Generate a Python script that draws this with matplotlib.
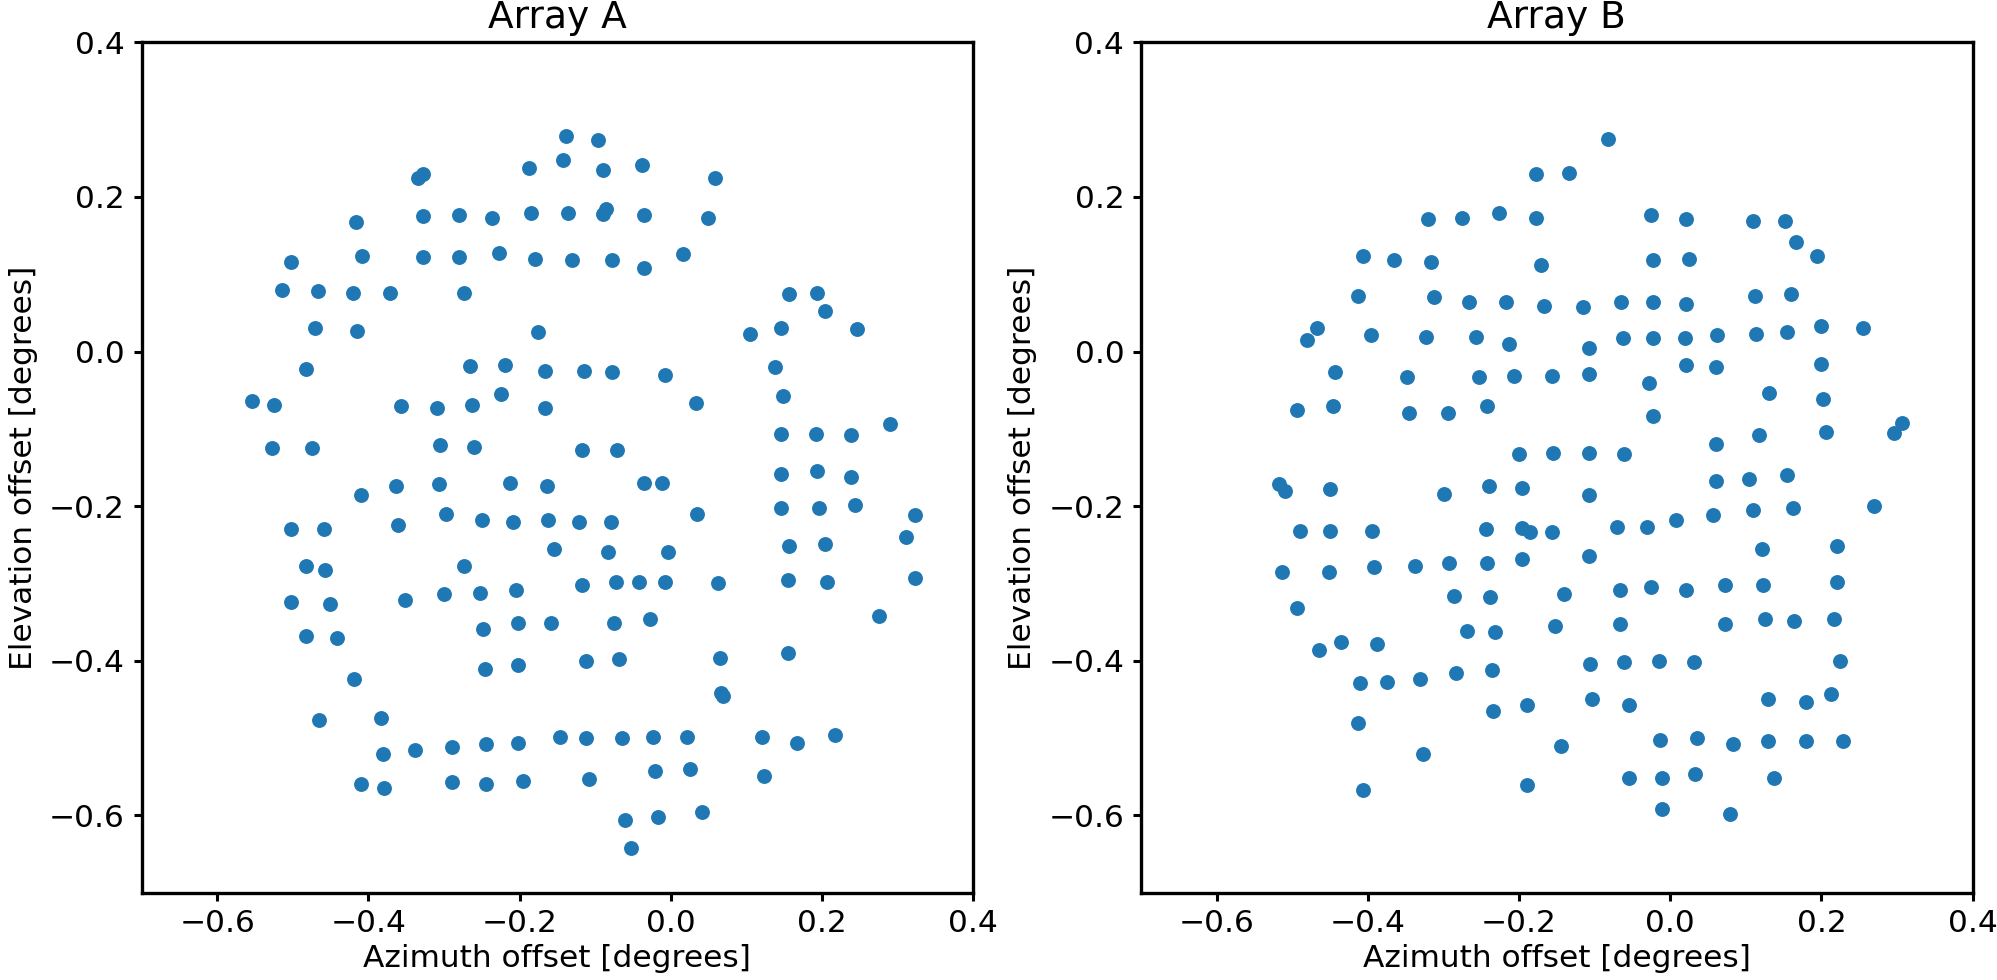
import matplotlib
matplotlib.use("Agg")
import matplotlib.pyplot as plt
import numpy as np

# Array A offsets (degrees)
a_az = [-0.139, -0.334, -0.328, -0.187, -0.142, -0.417, -0.328, -0.280, -0.236, -0.185, -0.136,
        -0.503, -0.409, -0.328, -0.280, -0.227, -0.179, -0.131, -0.514, -0.467, -0.421, -0.371,
        -0.273, -0.471, -0.415, -0.175, -0.483, -0.265, -0.219, -0.167, -0.115, -0.554, -0.525,
        -0.357, -0.309, -0.263, -0.225, -0.167, -0.527, -0.475, -0.305, -0.260, -0.117,
        -0.096, -0.090, -0.038, 0.058, -0.090, -0.086, -0.036, 0.050, -0.078, -0.036, 0.016,
        0.156, 0.194, 0.204, 0.105, 0.146, 0.246, -0.078, -0.007, 0.033, 0.138, 0.148, 0.290,
        0.146, 0.192, 0.238, -0.071,
        -0.410, -0.363, -0.307, -0.212, -0.164, -0.502, -0.459, -0.361, -0.298, -0.250, -0.209,
        -0.162, -0.121, -0.154, -0.483, -0.457, -0.273, -0.117, -0.502, -0.451, -0.352, -0.300,
        -0.252, -0.205, -0.483, -0.442, -0.248, -0.202, -0.159, -0.419, -0.246, -0.202, -0.112,
        -0.465, -0.384, -0.381, -0.338, -0.290, -0.244, -0.202, -0.146, -0.112, -0.410, -0.380,
        -0.290, -0.244, -0.196, -0.108,
        -0.036, -0.011, 0.146, 0.194, 0.238, -0.079, 0.035, 0.146, 0.196, 0.244, 0.323, 0.312,
        -0.083, -0.004, 0.156, 0.204, -0.073, -0.042, -0.008, 0.063, 0.155, 0.207, 0.323,
        -0.075, -0.027, 0.275, -0.069, 0.065, 0.155, 0.067, 0.069, -0.065, -0.023, 0.021,
        0.121, 0.167, 0.217, -0.021, 0.025, 0.123, -0.061, -0.017, 0.042, -0.052]
a_el = [0.279, 0.224, 0.229, 0.238, 0.248, 0.167, 0.175, 0.177, 0.173, 0.179, 0.179,
        0.116, 0.124, 0.122, 0.122, 0.128, 0.120, 0.118, 0.080, 0.078, 0.076, 0.076,
        0.076, 0.031, 0.027, 0.025, -0.023, -0.019, -0.017, -0.025, -0.025, -0.064, -0.069,
        -0.071, -0.073, -0.069, -0.055, -0.073, -0.125, -0.125, -0.121, -0.123, -0.127,
        0.273, 0.235, 0.241, 0.224, 0.178, 0.184, 0.177, 0.173, 0.118, 0.108, 0.126,
        0.074, 0.076, 0.053, 0.023, 0.031, 0.029, -0.027, -0.030, -0.067, -0.020, -0.057, -0.094,
        -0.107, -0.107, -0.108, -0.127,
        -0.186, -0.174, -0.171, -0.170, -0.174, -0.230, -0.230, -0.224, -0.210, -0.218, -0.221,
        -0.218, -0.221, -0.255, -0.277, -0.283, -0.277, -0.302, -0.324, -0.327, -0.322, -0.314,
        -0.312, -0.308, -0.368, -0.371, -0.359, -0.351, -0.351, -0.423, -0.411, -0.406, -0.400,
        -0.476, -0.474, -0.521, -0.516, -0.512, -0.508, -0.506, -0.498, -0.500, -0.559, -0.565,
        -0.557, -0.559, -0.555, -0.553,
        -0.170, -0.170, -0.158, -0.155, -0.162, -0.220, -0.210, -0.202, -0.202, -0.198, -0.212, -0.240,
        -0.259, -0.259, -0.251, -0.249, -0.298, -0.298, -0.298, -0.300, -0.296, -0.298, -0.293,
        -0.351, -0.346, -0.342, -0.398, -0.396, -0.390, -0.442, -0.446, -0.500, -0.498, -0.498,
        -0.498, -0.506, -0.496, -0.543, -0.540, -0.549, -0.606, -0.602, -0.596, -0.642]

# Array B offsets (degrees)
b_az = [-0.178, -0.134, -0.321, -0.276, -0.226, -0.178, -0.406, -0.365, -0.317, -0.171,
        -0.413, -0.313, -0.266, -0.217, -0.167, -0.115, -0.467, -0.480, -0.396, -0.323,
        -0.257, -0.213, -0.108, -0.444, -0.348, -0.253, -0.207, -0.156, -0.107, -0.494,
        -0.446, -0.346, -0.294, -0.242, -0.200, -0.155, -0.107,
        -0.082, -0.025, 0.021, 0.110, 0.152, 0.166, 0.194, -0.023, 0.025, -0.065, -0.023,
        0.021, 0.112, 0.160, -0.063, -0.023, 0.019, 0.062, 0.114, 0.154, 0.200, 0.255,
        0.021, 0.060, 0.200, -0.028, 0.131, 0.202, -0.023, 0.307, 0.296, 0.118, 0.206,
        0.060, -0.061,
        -0.518, -0.509, -0.450, -0.299, -0.240, -0.196, -0.108, -0.490, -0.450, -0.394,
        -0.244, -0.196, -0.185, -0.156, -0.513, -0.452, -0.392, -0.338, -0.293, -0.242,
        -0.196, -0.108, -0.494, -0.286, -0.238, -0.141, -0.465, -0.436, -0.388, -0.269,
        -0.232, -0.153, -0.411, -0.375, -0.331, -0.284, -0.236, -0.106, -0.235, -0.190,
        -0.103, -0.413, -0.327, -0.144, -0.190, -0.406,
        0.060, 0.104, 0.154, -0.071, -0.031, 0.008, 0.056, 0.110, 0.162, 0.269, 0.121,
        0.221, -0.067, -0.025, 0.021, 0.073, 0.122, 0.221, -0.067, 0.073, 0.125, 0.164,
        0.216, -0.061, -0.015, 0.031, 0.225, -0.055, 0.129, 0.179, 0.212, -0.013, 0.035,
        0.083, 0.129, 0.179, 0.229, -0.055, -0.011, 0.033, 0.137, -0.011, 0.079]
b_el = [0.229, 0.231, 0.171, 0.173, 0.179, 0.173, 0.124, 0.118, 0.116, 0.112,
        0.072, 0.070, 0.064, 0.064, 0.059, 0.058, 0.031, 0.015, 0.021, 0.019,
        0.019, 0.010, 0.004, -0.027, -0.033, -0.033, -0.031, -0.031, -0.029, -0.076,
        -0.071, -0.080, -0.080, -0.071, -0.133, -0.131, -0.131,
        0.275, 0.177, 0.171, 0.169, 0.169, 0.142, 0.124, 0.118, 0.120, 0.064, 0.064,
        0.062, 0.072, 0.074, 0.017, 0.017, 0.017, 0.021, 0.023, 0.025, 0.033, 0.031,
        -0.018, -0.020, -0.016, -0.041, -0.053, -0.061, -0.084, -0.092, -0.106, -0.108, -0.104,
        -0.119, -0.133,
        -0.171, -0.180, -0.178, -0.184, -0.174, -0.176, -0.186, -0.232, -0.232, -0.232,
        -0.230, -0.228, -0.233, -0.233, -0.285, -0.285, -0.279, -0.277, -0.273, -0.273,
        -0.269, -0.265, -0.332, -0.316, -0.318, -0.314, -0.386, -0.376, -0.378, -0.361,
        -0.363, -0.355, -0.429, -0.427, -0.423, -0.416, -0.412, -0.404, -0.465, -0.457,
        -0.449, -0.480, -0.521, -0.510, -0.561, -0.567,
        -0.167, -0.165, -0.160, -0.227, -0.227, -0.218, -0.212, -0.205, -0.202, -0.200, -0.255,
        -0.251, -0.308, -0.305, -0.308, -0.302, -0.302, -0.298, -0.352, -0.352, -0.346, -0.349,
        -0.346, -0.402, -0.400, -0.402, -0.400, -0.457, -0.449, -0.453, -0.443, -0.503, -0.500,
        -0.508, -0.504, -0.504, -0.504, -0.551, -0.551, -0.546, -0.551, -0.592, -0.598]

titles = ["Array A", "Array B"]
x_label = "Azimuth offset [degrees]"
y_label = "Elevation offset [degrees]"
ticks = [-0.6, -0.4, -0.2, 0.0, 0.2, 0.4]

W, H = 1997, 980
fig = plt.figure(figsize=(W / 100, H / 100), dpi=100)
FS = 22.5
rects = [
    (141.7 / W, 1 - 892.7 / H, (973 - 141.7) / W, (892.7 - 42.3) / H),
    (1141 / W, 1 - 892.7 / H, (1972.7 - 1141) / W, (892.7 - 42.3) / H),
]
for rect, title, az, el in zip(rects, titles, [a_az, b_az], [a_el, b_el]):
    ax = fig.add_axes(rect)
    ax.scatter(az, el, s=115, color="#1f77b4", linewidths=0)
    ax.set_xlim(-0.7, 0.4)
    ax.set_ylim(-0.7, 0.4)
    ax.set_xticks(ticks)
    ax.set_yticks(ticks)
    ax.set_xticklabels([f"{t:.1f}".replace("-", "\u2212") for t in ticks])
    ax.set_yticklabels([f"{t:.1f}".replace("-", "\u2212") for t in ticks])
    ax.tick_params(labelsize=FS, length=6, width=2.2, pad=6)
    for s in ax.spines.values():
        s.set_linewidth(2.4)
    ax.set_title(title, fontsize=FS * 1.2, pad=10)
    ax.set_xlabel(x_label, fontsize=FS, labelpad=4)
    ax.set_ylabel(y_label, fontsize=FS, labelpad=8)

fig.savefig("out.png", dpi=100)
